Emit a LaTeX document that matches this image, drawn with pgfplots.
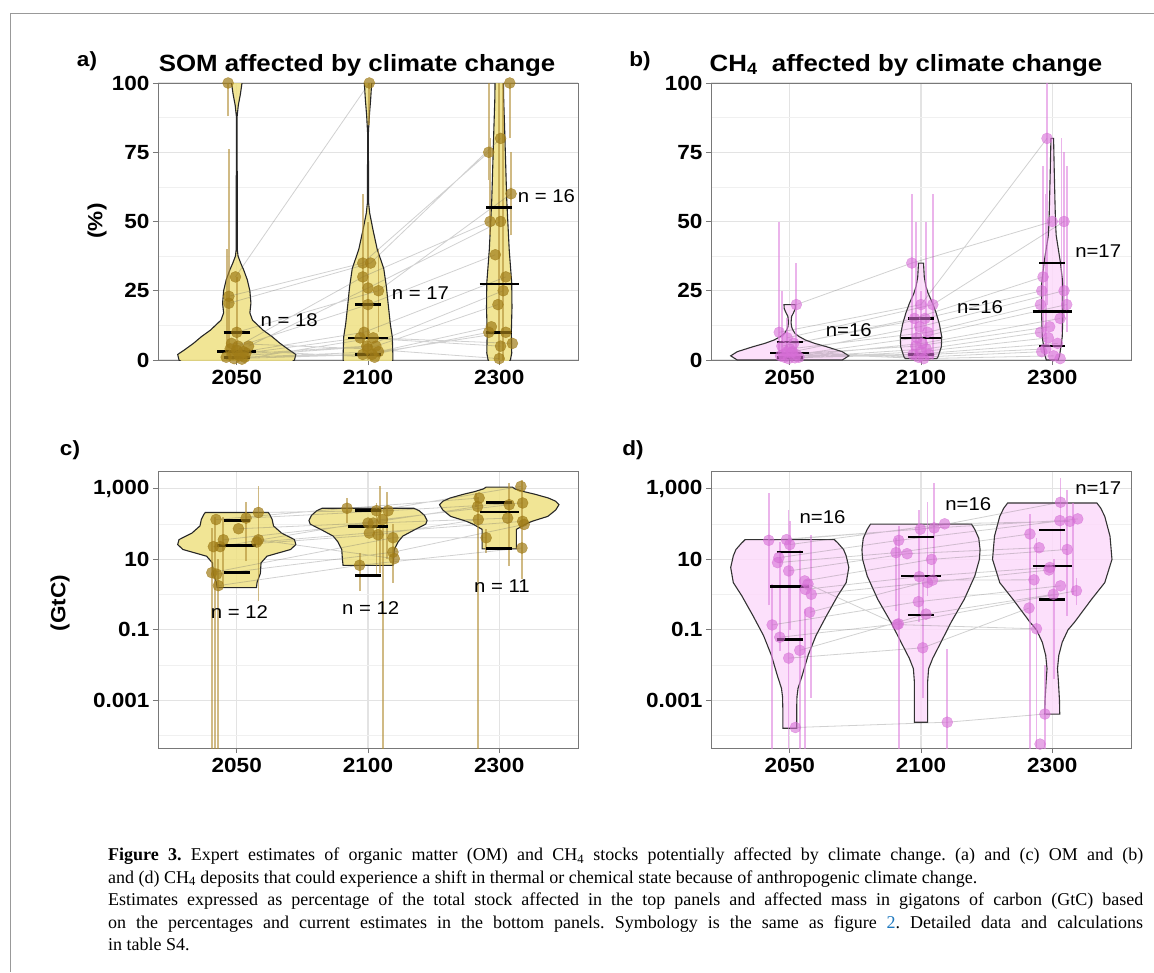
\documentclass[border=0pt]{standalone}
\usepackage{pgfplots}
\pgfplotsset{compat=1.18}
\usepackage{fontspec}
\setmainfont{Liberation Sans}[FakeStretch=1.1]
\newfontfamily\capfont{Liberation Serif}

\definecolor{goldpt}{RGB}{160,124,24}
\definecolor{goldbar}{RGB}{176,140,50}
\definecolor{goldfill}{RGB}{238,224,130}
\definecolor{pinkpt}{RGB}{214,110,214}
\definecolor{pinkbar}{RGB}{222,130,222}
\definecolor{pinkfill}{RGB}{252,218,250}
\definecolor{framegray}{RGB}{120,120,120}
\definecolor{linkblue}{RGB}{30,120,190}

\newcommand\tickfont{\fontsize{20.5}{20.5}\selectfont\bfseries}
\newcommand\titlefont{\fontsize{23.5}{23.5}\selectfont\bfseries}
\newcommand\nfont{\fontsize{18.5}{18.5}\selectfont}
\newcommand\labfont{\fontsize{20.5}{20.5}\selectfont\bfseries}

\pgfplotsset{
  panel/.style={
    width=420pt, height=277pt, scale only axis,
    xmin=0.4, xmax=3.6, xtick={1,2,3}, xticklabels={2050,2100,2300},
    axis line style={framegray, line width=0.9pt},
    tick align=outside, tick pos=left, major tick length=5pt, minor tick length=0pt,
    tick style={framegray, line width=0.9pt},
    grid=both,
    major grid style={black!11, line width=1.1pt},
    minor grid style={black!6, line width=0.6pt},
    ticklabel style={font=\tickfont},
    xticklabel style={yshift=-2pt},
    /pgf/number format/assume math mode=true,
    unbounded coords=jump,
  },
  goldviolin/.style={draw=black!85, line width=1.1pt, fill=goldfill, fill opacity=0.85},
  pinkviolin/.style={draw=black!80, line width=1.1pt, fill=pinkfill, fill opacity=0.85},
  goldbars/.style={goldbar, line width=1.8pt, opacity=0.6},
  pinkbars/.style={pinkbar, line width=1.8pt, opacity=0.6},
  links/.style={black!60, line width=0.8pt, opacity=0.3},
  goldpts/.style={only marks, mark=*, mark size=5.5pt, color=goldpt,
    mark options={draw=goldpt, fill=goldpt, opacity=0.7}},
  pinkpts/.style={only marks, mark=*, mark size=5.5pt, color=pinkpt,
    mark options={draw=pinkpt, fill=pinkpt, opacity=0.6}},
  quant/.style={black, line width=2.6pt},
}

\begin{document}
\begin{tikzpicture}
\useasboundingbox (0,0) rectangle (1154pt,-972pt);
\draw[black!40, line width=1pt] (1154pt,-13pt) -- (10pt,-13pt) -- (10pt,-972pt);

% ---------- a) SOM (%)
\begin{axis}[panel, at={(158pt,-83pt)}, anchor=north west,
  ymin=0, ymax=100, ytick={0,25,50,75,100}, minor ytick={12.5,37.5,62.5,87.5}]
\addplot[goldviolin] coordinates {
(0.65,-3) (0.56,0) (0.55,2) (0.60,3.6) (0.67,6) (0.73,8.4) (0.80,10.8) (0.88,14.4) (0.90,17)
(0.892,20.5) (0.90,25) (0.92,29) (0.947,32.5) (0.97,35) (0.99,37.5) (0.996,40) (0.997,88)
(0.988,92) (0.972,96) (0.96,100) (0.955,103)
(1.045,103) (1.04,100) (1.028,96) (1.012,92) (1.003,88) (1.004,40) (1.01,37.5) (1.03,35)
(1.053,32.5) (1.08,29) (1.10,25) (1.108,20.5) (1.10,17) (1.12,14.4) (1.20,10.8) (1.27,8.4)
(1.33,6) (1.40,3.6) (1.45,2) (1.44,0) (1.35,-3)} --cycle;
\addplot[goldviolin] coordinates {
(1.84,-3) (1.81,0) (1.81,1.2) (1.815,8.4) (1.83,13) (1.847,20.5) (1.86,26.5) (1.88,33) (1.93,40)
(1.962,47) (1.987,53) (1.996,57) (1.997,82) (1.99,88) (1.98,94) (1.972,100) (1.97,103)
(2.03,103) (2.028,100) (2.02,94) (2.01,88) (2.003,82) (2.004,57) (2.013,53) (2.038,47) (2.07,40)
(2.12,33) (2.14,26.5) (2.153,20.5) (2.17,13) (2.185,8.4) (2.19,1.2) (2.19,0) (2.16,-3)} --cycle;
\addplot[goldviolin] coordinates {
(2.93,-1) (2.915,0) (2.905,2.5) (2.908,9.7) (2.903,19) (2.905,27.8) (2.924,39.7) (2.943,57.8)
(2.958,82) (2.966,93.8) (2.968,100) (2.97,103)
(3.03,103) (3.032,100) (3.034,93.8) (3.042,82) (3.057,57.8) (3.076,39.7) (3.095,27.8) (3.097,19)
(3.092,9.7) (3.095,2.5) (3.085,0) (3.07,-1)} --cycle;
\addplot[goldbars] coordinates {
(0.94,0) (0.94,76) (0.94,nan) (0.925,0) (0.925,40) (0.925,nan) (1.0,0) (1.0,30) (1.0,nan)
(0.934,88) (0.934,100) (0.934,nan)
(1.96,2) (1.96,60) (1.96,nan) (2.08,10) (2.08,40) (2.08,nan) (2.0,0) (2.0,50) (2.0,nan)
(2.01,85) (2.01,100) (2.01,nan)
(2.92,65) (2.92,100) (2.92,nan) (2.93,45) (2.93,80) (2.93,nan) (3.09,45) (3.09,75) (3.09,nan)
(3.0,0) (3.0,100) (3.0,nan) (3.03,0) (3.03,100) (3.03,nan) (3.08,80) (3.08,100)};
\addplot[links] coordinates {
(0.99,30) (2.01,100) (3.08,100) (3,nan)
(0.94,23) (1.96,35) (2.92,75) (3,nan)
(0.94,20.5) (2.02,35) (3.01,80) (3,nan)
(1.0,10) (2.08,25) (3.09,60) (3,nan)
(1.01,5) (1.96,30) (2.93,50) (3,nan)
(1.09,5) (2.0,26) (3.01,50) (3,nan)
(0.95,4) (2.0,20) (2.97,38) (3,nan)
(1.05,3) (1.97,10) (3.05,30) (3,nan)
(0.97,2) (1.99,5) (3.03,25) (3,nan)
(1.02,1.5) (2.06,5) (2.99,20) (3,nan)
(1.06,1) (2.08,3) (2.94,12) (3,nan)
(0.92,1) (1.96,2) (3.05,10) (3,nan)
(0.98,0.5) (2.03,2) (2.92,10) (3,nan)
(1.07,2.5) (1.94,8) (3.01,5) (3,nan)
(1.04,0.3) (2.04,8) (3.1,6) (3,nan)
(0.96,6) (2.0,4) (3.0,0.5) (3,nan)
(1.0,3.5) (2.05,1)};
\addplot[goldpts] coordinates {
(0.934,100) (0.99,30) (0.94,23) (0.94,20.5) (1.0,10) (1.01,5) (1.09,5) (0.95,4) (1.05,3)
(0.97,2) (1.02,1.5) (1.06,1) (0.92,1) (0.98,0.5) (1.07,2.5) (1.04,0.3) (0.96,6) (1.0,3.5)
(2.01,100) (1.96,35) (2.02,35) (1.96,30) (2.0,26) (2.08,25) (2.0,20) (1.97,10) (1.99,5)
(2.06,5) (2.08,3) (1.96,2) (2.03,2) (1.94,8) (2.04,8) (2.0,4) (2.05,1)
(3.08,100) (3.01,80) (2.92,75) (3.09,60) (2.93,50) (3.01,50) (2.97,38) (3.05,30) (3.03,25)
(2.99,20) (2.94,12) (3.05,10) (2.92,10) (3.01,5) (3.1,6) (3.0,0.5)};
\addplot[quant] coordinates {
(0.9,10) (1.1,10) (1,nan) (0.85,3) (1.15,3) (1,nan) (0.9,1) (1.1,1) (1,nan)
(1.9,20) (2.1,20) (2,nan) (1.85,8) (2.15,8) (2,nan) (1.9,2) (2.1,2) (2,nan)
(2.9,55) (3.1,55) (3,nan) (2.85,27.5) (3.15,27.5) (3,nan) (2.9,10) (3.1,10)};
\node[font=\nfont] at (axis cs:1.40,14.4) {n = 18};
\node[font=\nfont] at (axis cs:2.40,24.2) {n = 17};
\node[font=\nfont] at (axis cs:3.36,59.2) {n = 16};
\end{axis}

% ---------- b) CH4 (%)
\begin{axis}[panel, at={(711pt,-83pt)}, anchor=north west,
  ymin=0, ymax=100, ytick={0,25,50,75,100}, minor ytick={12.5,37.5,62.5,87.5}]
\addplot[pinkviolin] coordinates {
(0.60,0) (0.55,1.5) (0.60,3) (0.72,4.8) (0.81,6) (0.88,7.2) (0.93,8.5) (0.96,9.6) (0.978,11)
(0.986,12) (0.99,13.5) (0.986,15.7) (0.972,17) (0.958,18.5) (0.956,20)
(1.044,20) (1.042,18.5) (1.028,17) (1.014,15.7) (1.01,13.5) (1.014,12) (1.022,11) (1.04,9.6)
(1.07,8.5) (1.12,7.2) (1.19,6) (1.28,4.8) (1.40,3) (1.45,1.5) (1.40,0)} --cycle;
\addplot[pinkviolin] coordinates {
(1.88,0.5) (1.87,1.2) (1.845,4.8) (1.842,8.4) (1.86,13) (1.885,17) (1.912,20.5) (1.945,24)
(1.962,26.5) (1.975,30) (1.981,35)
(2.019,35) (2.025,30) (2.038,26.5) (2.055,24) (2.088,20.5) (2.115,17) (2.14,13) (2.158,8.4)
(2.155,4.8) (2.13,1.2) (2.12,0.5)} --cycle;
\addplot[pinkviolin] coordinates {
(2.955,0) (2.943,1.8) (2.924,8.4) (2.918,18) (2.92,27.7) (2.937,35) (2.953,39.8) (2.97,45)
(2.975,49.4) (2.979,56.6) (2.985,68.7) (2.99,80)
(3.01,80) (3.015,68.7) (3.021,56.6) (3.025,49.4) (3.03,45) (3.047,39.8) (3.063,35) (3.08,27.7)
(3.082,18) (3.076,8.4) (3.057,1.8) (3.045,0)} --cycle;
\addplot[pinkbars] coordinates {
(0.92,0) (0.92,50) (1,nan) (0.94,0) (0.94,25) (1,nan) (1.05,0) (1.05,35) (1,nan) (0.98,0) (0.98,15) (1,nan)
(1.93,0) (1.93,60) (2,nan) (1.96,0) (1.96,50) (2,nan) (2.04,0) (2.04,50) (2,nan) (2.09,0) (2.09,60) (2,nan)
(2.0,5) (2.0,25) (2,nan)
(2.96,20) (2.96,100) (3,nan) (2.93,10) (2.93,70) (3,nan) (2.95,5) (2.95,60) (3,nan) (3.07,10) (3.07,80) (3,nan)
(3.09,15) (3.09,75) (3,nan) (3.11,10) (3.11,70)};
\addplot[links] coordinates {
(1.05,20) (1.93,35) (3.0,50) (3,nan)
(0.92,10) (2.0,20) (2.96,80) (3,nan)
(0.98,8) (2.09,20) (3.09,50) (3,nan)
(0.94,5) (1.95,15) (2.93,30) (3,nan)
(1.03,6) (2.03,15) (2.92,25) (3,nan)
(1.02,3) (1.99,12) (3.09,25) (3,nan)
(1.0,4) (2.05,10) (2.91,20) (3,nan)
(1.05,2) (1.97,8) (3.11,20) (3,nan)
(0.96,1) (2.01,6) (3.06,15) (3,nan)
(0.95,2) (1.96,5) (2.98,12) (3,nan)
(1.07,1) (2.04,4) (2.91,10) (3,nan)
(0.99,0.5) (2.0,3) (2.97,8) (3,nan)
(0.93,1.5) (1.94,2) (3.04,6) (3,nan)
(1.04,0.8) (2.06,2) (2.95,4) (3,nan)
(0.98,3) (1.98,1) (2.92,3) (3,nan)
(1.01,2.5) (2.02,0.5) (3.01,1.5)};
\addplot[pinkpts] coordinates {
(0.92,10) (1.05,20) (0.94,5) (0.98,8) (1.02,3) (1.05,2) (0.96,1) (1.0,4) (1.03,6) (0.95,2)
(1.07,1) (0.99,0.5) (0.93,1.5) (1.04,0.8) (0.98,3) (1.01,2.5)
(1.93,35) (2.0,20) (2.09,20) (1.95,15) (2.03,15) (1.99,12) (2.05,10) (1.97,8) (2.01,6) (1.96,5)
(2.04,4) (2.0,3) (1.94,2) (2.06,2) (1.98,1) (2.02,0.5)
(2.96,80) (3.0,50) (3.09,50) (2.93,30) (2.92,25) (3.09,25) (2.91,20) (3.11,20) (3.06,15)
(2.98,12) (2.91,10) (2.97,8) (3.04,6) (2.95,4) (2.92,3) (3.01,1.5) (3.06,0.5)};
\addplot[quant] coordinates {
(0.9,6.5) (1.1,6.5) (1,nan) (0.85,2.5) (1.15,2.5) (1,nan) (0.9,1) (1.1,1) (1,nan)
(1.9,15) (2.1,15) (2,nan) (1.85,8) (2.15,8) (2,nan) (1.9,2) (2.1,2) (2,nan)
(2.9,35) (3.1,35) (3,nan) (2.85,17.5) (3.15,17.5) (3,nan) (2.9,5) (3.1,5)};
\node[font=\nfont] at (axis cs:1.45,10.8) {n=16};
\node[font=\nfont] at (axis cs:2.45,19.1) {n=16};
\node[font=\nfont] at (axis cs:3.35,39.4) {n=17};
\end{axis}

% ---------- c) SOM (GtC)
\begin{axis}[panel, at={(158pt,-471pt)}, anchor=north west,
  ymode=log, ymin=4.45e-5, ymax=3214, ytick={0.001,0.1,10,1000},
  yticklabels={0.001,0.1,10,{1,000}}, minor ytick={0.0001,0.01,1,100}]
\addplot[goldviolin] table[x=x, y expr=10^(\thisrow{ly})] {
x ly
0.85 0.2
0.845 0.35
0.82 0.6
0.815 0.9
0.77 1.09
0.59 1.28
0.55 1.42
0.56 1.56
0.66 1.75
0.72 1.95
0.73 2.13
0.75 2.28
0.76 2.33
1.24 2.33
1.25 2.28
1.27 2.13
1.28 1.95
1.34 1.75
1.44 1.56
1.45 1.42
1.41 1.28
1.23 1.09
1.185 0.9
1.18 0.6
1.155 0.35
1.15 0.2
} --cycle;
\addplot[goldviolin] table[x=x, y expr=10^(\thisrow{ly})] {
x ly
1.81 0.83
1.805 1.0
1.80 1.28
1.77 1.5
1.735 1.66
1.64 1.85
1.56 2.0
1.55 2.1
1.57 2.25
1.61 2.38
1.65 2.45
2.35 2.45
2.39 2.38
2.43 2.25
2.45 2.1
2.44 2.0
2.36 1.85
2.265 1.66
2.23 1.5
2.20 1.28
2.195 1.0
2.19 0.83
} --cycle;
\addplot[goldviolin] table[x=x, y expr=10^(\thisrow{ly})] {
x ly
2.87 1.3
2.87 1.6
2.87 1.85
2.80 2.0
2.75 2.08
2.63 2.22
2.57 2.4
2.545 2.55
2.57 2.65
2.625 2.74
2.73 2.85
2.81 2.92
2.88 3.0
2.90 3.05
3.10 3.05
3.12 3.0
3.19 2.92
3.27 2.85
3.375 2.74
3.43 2.65
3.455 2.55
3.43 2.4
3.37 2.22
3.25 2.08
3.20 2.0
3.13 1.85
3.13 1.6
3.13 1.3
} --cycle;
\addplot[goldbars] coordinates {
(0.81,1e-6) (0.81,79) (1,nan) (0.835,1e-6) (0.835,158) (1,nan) (0.86,1e-6) (0.86,10) (1,nan)
(1.165,0.68) (1.165,1175) (1,nan) (1.071,8.9) (1.071,437) (1,nan) (0.898,2) (0.898,158) (1,nan)
(2.115,1e-6) (2.115,87) (2,nan) (2.094,4.2) (2.094,1175) (2,nan) (1.936,1.26) (1.936,15) (2,nan)
(2.19,2.2) (2.19,100) (2,nan) (2.145,10.5) (2.145,794) (2,nan) (2.064,3.4) (2.064,400) (2,nan)
(1.84,107) (1.84,550) (2,nan)
(2.84,1e-6) (2.84,600) (3,nan) (2.9,15.5) (2.9,71) (3,nan) (3.076,6.5) (3.076,1445) (3,nan)
(3.173,2.75) (3.173,1778) (3,nan) (2.82,316) (2.82,741)};
\addplot[links] coordinates {
(0.842,135) (1.84,282) (2.847,550) (3,nan)
(1.013,74) (2.0,107) (2.835,316) (3,nan)
(1.165,214) (2.064,240) (3.165,1175) (3,nan)
(1.071,148) (2.153,240) (3.178,398) (3,nan)
(0.898,36) (2.04,107) (3.064,148) (3,nan)
(0.822,23) (2.076,50) (2.84,135) (3,nan)
(0.873,23) (2.11,135) (3.076,355) (3,nan)
(1.153,31) (2.01,56) (3.178,120) (3,nan)
(0.81,4.2) (2.19,41) (2.9,41) (3,nan)
(0.847,3.8) (2.19,16) (3.19,98) (3,nan)
(0.86,1.8) (1.936,6.8) (3.173,21) (3,nan)
(1.165,36) (2.2,10.5)};
\addplot[goldpts] coordinates {
(0.842,135) (1.013,74) (1.165,214) (1.071,148) (0.898,36) (0.822,23) (0.873,23) (1.153,31)
(0.81,4.2) (0.847,3.8) (0.86,1.8) (1.165,36)
(1.84,282) (1.936,6.8) (2.0,107) (2.064,240) (2.076,50) (2.153,240) (2.19,41) (2.19,16)
(2.2,10.5) (2.04,107) (2.11,135) (2.01,56)
(2.847,550) (2.835,316) (2.84,135) (2.9,41) (3.076,355) (3.064,148) (3.165,1175) (3.178,398)
(3.178,120) (3.19,98) (3.173,21)};
\addplot[quant] coordinates {
(0.9,129) (1.1,129) (1,nan) (0.85,25) (1.15,25) (1,nan) (0.9,4.2) (1.1,4.2) (1,nan)
(1.9,245) (2.1,245) (2,nan) (1.85,87) (2.15,87) (2,nan) (1.9,3.5) (2.1,3.5) (2,nan)
(2.9,407) (3.1,407) (3,nan) (2.85,219) (3.15,219) (3,nan) (2.9,20) (3.1,20)};
\node[font=\nfont] at (axis cs:1.02,0.32) {n = 12};
\node[font=\nfont] at (axis cs:2.02,0.42) {n = 12};
\node[font=\nfont] at (axis cs:3.02,1.73) {n = 11};
\end{axis}

% ---------- d) CH4 (GtC)
\begin{axis}[panel, at={(711pt,-471pt)}, anchor=north west,
  ymode=log, ymin=4.45e-5, ymax=3214, ytick={0.001,0.1,10,1000},
  yticklabels={0.001,0.1,10,{1,000}}, minor ytick={0.0001,0.01,1,100}]
\addplot[pinkviolin] table[x=x, y expr=10^(\thisrow{ly})] {
x ly
0.947 -3.79
0.947 -3.2
0.945 -2.9
0.937 -2.66
0.905 -2.29
0.86 -1.72
0.80 -1.16
0.72 -0.6
0.634 -0.03
0.57 0.34
0.55 0.77
0.57 1.1
0.59 1.28
0.63 1.45
0.66 1.56
1.34 1.56
1.37 1.45
1.41 1.28
1.43 1.1
1.45 0.77
1.43 0.34
1.366 -0.03
1.28 -0.6
1.20 -1.16
1.14 -1.72
1.095 -2.29
1.063 -2.66
1.055 -2.9
1.053 -3.2
1.053 -3.79
} --cycle;
\addplot[pinkviolin] table[x=x, y expr=10^(\thisrow{ly})] {
x ly
1.95 -3.62
1.95 -3.0
1.95 -2.5
1.942 -2.1
1.91 -1.8
1.874 -1.54
1.77 -0.78
1.67 -0.13
1.59 0.53
1.555 1.0
1.55 1.28
1.56 1.6
1.59 1.85
1.615 2.0
2.385 2.0
2.41 1.85
2.44 1.6
2.45 1.28
2.445 1.0
2.41 0.53
2.33 -0.13
2.23 -0.78
2.126 -1.54
2.09 -1.8
2.058 -2.1
2.05 -2.5
2.05 -3.0
2.05 -3.62
} --cycle;
\addplot[pinkviolin] table[x=x, y expr=10^(\thisrow{ly})] {
x ly
2.943 -3.39
2.945 -3.0
2.953 -2.47
2.96 -2.1
2.95 -1.72
2.924 -1.35
2.88 -1.0
2.83 -0.78
2.70 -0.13
2.60 0.34
2.545 1.0
2.56 1.66
2.60 2.22
2.63 2.45
2.66 2.6
3.34 2.6
3.37 2.45
3.40 2.22
3.44 1.66
3.455 1.0
3.40 0.34
3.30 -0.13
3.17 -0.78
3.12 -1.0
3.076 -1.35
3.05 -1.72
3.04 -2.1
3.047 -2.47
3.055 -3.0
3.057 -3.39
} --cycle;
\addplot[pinkbars] coordinates {
(0.84,0.5) (0.84,759) (1,nan) (0.866,1e-6) (0.866,2.0) (1,nan) (0.99,1e-6) (0.99,251) (1,nan)
(1.0,0.1) (1.0,126) (1,nan) (1.076,1e-6) (1.076,19) (1,nan) (1.115,1e-6) (1.115,0.4) (1,nan)
(1.164,0.00115) (1.164,50) (1,nan) (0.924,0.025) (0.924,31.6) (1,nan)
(1.83,1e-6) (1.83,87) (2,nan) (1.987,0.166) (1.987,251) (2,nan) (2.1,2.7) (2.1,1445) (2,nan)
(2.05,0.9) (2.05,427) (2,nan) (2.2,1e-6) (2.2,0.029) (2,nan) (2.013,0.00115) (2.013,2.2) (2,nan)
(1.81,0.35) (1.81,41.7) (2,nan)
(3.063,19) (3.063,1995) (3,nan) (3.114,0.25) (3.114,933) (3,nan) (2.83,1e-6) (2.83,200) (3,nan)
(2.88,1e-6) (2.88,40) (3,nan) (2.944,1e-6) (2.944,0.01) (3,nan) (3.159,1) (3.159,400) (3,nan)
(3.013,0.004) (3.013,10) (3,nan) (3.184,0.5) (3.184,3)};
\addplot[links] coordinates {
(0.84,34.7) (1.995,72) (3.063,417) (3,nan)
(0.975,36.3) (2.10,78) (3.058,126) (3,nan)
(1.0,26.3) (2.18,102) (3.134,120) (3,nan)
(0.917,11.2) (1.83,34.7) (3.194,141) (3,nan)
(0.907,8.1) (1.81,15.5) (2.83,52.5) (3,nan)
(0.992,4.7) (1.894,14.5) (2.9,21.4) (3,nan)
(1.114,2.45) (2.08,10) (3.114,19.1) (3,nan)
(1.119,1.41) (1.987,3.24) (2.982,5.9) (3,nan)
(1.164,1.02) (2.05,2.19) (2.975,5.0) (3,nan)
(1.152,0.316) (2.088,2.57) (2.861,2.63) (3,nan)
(0.866,0.138) (1.98,0.63) (3.063,1.78) (3,nan)
(0.924,0.0617) (1.828,0.148) (3.184,1.29) (3,nan)
(1.076,0.0263) (2.038,0.28) (3.008,1.02) (3,nan)
(0.992,0.0158) (2.013,0.031) (2.823,0.417) (3,nan)
(1.043,0.00017) (2.2,0.00024) (2.944,0.00041) (3,nan)
(1.139,2.0) (1.818,0.141) (2.88,0.107)};
\addplot[pinkpts] coordinates {
(0.84,34.7) (0.975,36.3) (1.0,26.3) (0.917,11.2) (0.907,8.1) (0.992,4.7) (1.114,2.45)
(1.119,1.41) (1.164,1.02) (1.152,0.316) (0.866,0.138) (0.924,0.0617) (1.076,0.0263)
(0.992,0.0158) (1.043,0.00017) (1.139,2.0)
(1.83,34.7) (1.81,15.5) (1.894,14.5) (1.828,0.148) (1.818,0.141) (1.995,72) (2.10,78)
(2.18,102) (2.08,10) (1.987,3.24) (2.05,2.19) (2.088,2.57) (1.98,0.63) (2.038,0.28)
(2.013,0.031) (2.2,0.00024)
(3.063,417) (3.058,126) (3.134,120) (3.194,141) (2.83,52.5) (2.9,21.4) (3.114,19.1)
(2.982,5.9) (2.975,5.0) (2.861,2.63) (3.063,1.78) (3.184,1.29) (3.008,1.02) (2.823,0.417)
(2.88,0.107) (2.944,0.00041) (2.907,0.0000575)};
\addplot[quant] coordinates {
(0.9,16.2) (1.1,16.2) (1,nan) (0.85,1.7) (1.15,1.7) (1,nan) (0.9,0.054) (1.1,0.054) (1,nan)
(1.9,43.6) (2.1,43.6) (2,nan) (1.85,3.4) (2.15,3.4) (2,nan) (1.9,0.263) (2.1,0.263) (2,nan)
(2.9,67.6) (3.1,67.6) (3,nan) (2.85,6.5) (3.15,6.5) (3,nan) (2.9,0.74) (3.1,0.74)};
\node[font=\nfont] at (axis cs:1.25,162) {n=16};
\node[font=\nfont] at (axis cs:2.36,380) {n=16};
\node[font=\nfont] at (axis cs:3.35,1070) {n=17};
\end{axis}

% ---------- titles and labels
\node[font=\titlefont, anchor=base] at (357pt,-71pt) {SOM affected by climate change};
\node[font=\titlefont, anchor=base] at (906pt,-71pt) {CH\textsubscript{4}\ \ affected by climate change};
\node[font=\labfont, anchor=base] at (87pt,-66pt) {a)};
\node[font=\labfont, anchor=base] at (640pt,-66pt) {b)};
\node[font=\labfont, anchor=base] at (70pt,-455pt) {c)};
\node[font=\labfont, anchor=base] at (633pt,-455pt) {d)};
\node[font=\labfont, rotate=90] at (97pt,-221pt) {(\%)};
\node[font=\labfont, rotate=90] at (60pt,-603pt) {(GtC)};

% ---------- caption
\node[anchor=north west, inner sep=0pt, text width=1035pt, align=justify,
      font=\capfont\fontsize{18}{22.5}\selectfont\frenchspacing] at (108pt,-848pt)
{{\bfseries Figure 3.} Expert estimates of organic matter (OM) and CH\textsubscript{4} stocks potentially affected by climate change. (a) and (c) OM and (b)\linebreak
and (d) CH\textsubscript{4} deposits that could experience a shift in thermal or chemical state because of anthropogenic climate change.\\
Estimates expressed as percentage of the total stock affected in the top panels and affected mass in gigatons of carbon (GtC) based\linebreak
on the percentages and current estimates in the bottom panels. Symbology is the same as figure {\color{linkblue}2}. Detailed data and calculations\linebreak
in table S4.};
\end{tikzpicture}
\end{document}
